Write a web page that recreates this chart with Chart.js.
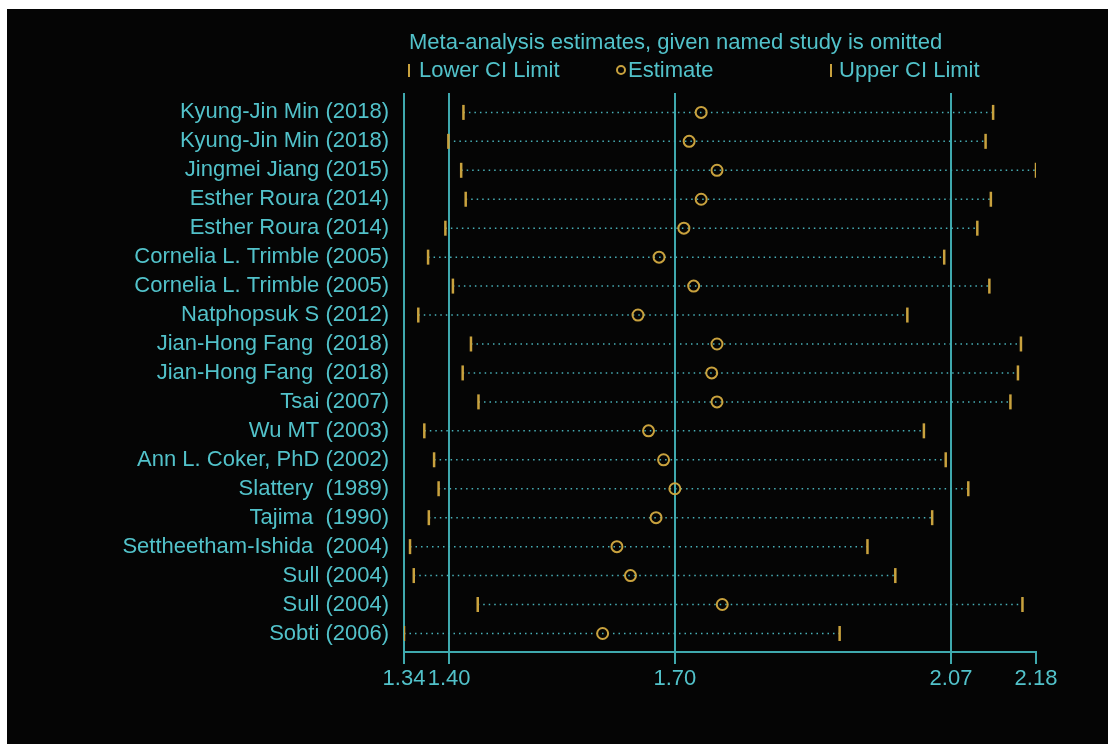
<!DOCTYPE html>
<html>
<head>
<meta charset="utf-8">
<script src="https://cdn.jsdelivr.net/npm/chart.js@4"></script>
<style>
  html, body { margin: 0; padding: 0; background: #ffffff; }
  #wrap { position: absolute; left: 7px; top: 9px; width: 1101px; height: 735px; background: #050505; }
  canvas { display: block; }
</style>
</head>
<body>
<div id="wrap"><canvas id="chart" width="1101" height="735"></canvas></div>
<script>
// 한 연구씩 제외한 메타분석 추정치 (leave-one-out)
const studies = [
  'Kyung-Jin Min (2018)', 'Kyung-Jin Min (2018)', 'Jingmei Jiang (2015)', 'Esther Roura (2014)',
  'Esther Roura (2014)', 'Cornelia L. Trimble (2005)', 'Cornelia L. Trimble (2005)', 'Natphopsuk S (2012)',
  'Jian-Hong Fang  (2018)', 'Jian-Hong Fang  (2018)', 'Tsai (2007)', 'Wu MT (2003)',
  'Ann L. Coker, PhD (2002)', 'Slattery  (1989)', 'Tajima  (1990)', 'Settheetham-Ishida  (2004)',
  'Sull (2004)', 'Sull (2004)', 'Sobti (2006)'
];
const lowerCI = [1.419, 1.399, 1.416, 1.422, 1.395, 1.372, 1.405, 1.359, 1.429, 1.418,
                 1.439, 1.367, 1.380, 1.386, 1.373, 1.348, 1.353, 1.438, 1.340];
const estimates = [1.735, 1.719, 1.756, 1.735, 1.712, 1.679, 1.725, 1.651, 1.756, 1.749,
                   1.756, 1.665, 1.685, 1.700, 1.675, 1.623, 1.641, 1.763, 1.604];
const upperCI = [2.123, 2.113, 2.180, 2.120, 2.102, 2.058, 2.118, 2.009, 2.160, 2.156,
                 2.146, 2.031, 2.060, 2.090, 2.042, 1.956, 1.993, 2.162, 1.919];
const xTicks = [1.34, 1.40, 1.70, 2.067, 2.18];
const refLines = [1.34, 1.40, 1.70, 2.067];

const TEXT = '#52c2ca';
const LINE = '#3fa9ae';
const GOLD = '#c9a23e';
const DOTS = '#48b0b8';
const FONT = "'Liberation Sans', Arial, sans-serif";

const ciSegments = [];
studies.forEach((s, i) => {
  ciSegments.push({ x: lowerCI[i], y: i }, { x: upperCI[i], y: i }, { x: upperCI[i], y: null });
});

const legendPlugin = {
  id: 'stataLegend',
  afterDraw(chart) {
    const ctx = chart.ctx;
    ctx.save();
    ctx.fillStyle = TEXT;
    ctx.font = `22px ${FONT}`;
    ctx.textBaseline = 'alphabetic';
    ctx.fillText('Meta-analysis estimates, given named study is omitted', 402, 40);
    ctx.fillText('Lower CI Limit', 412, 68);
    ctx.fillText('Estimate', 621, 68);
    ctx.fillText('Upper CI Limit', 832, 68);
    ctx.strokeStyle = GOLD;
    ctx.lineWidth = 2;
    ctx.beginPath();
    ctx.moveTo(402, 55); ctx.lineTo(402, 68);
    ctx.moveTo(824, 55); ctx.lineTo(824, 68);
    ctx.stroke();
    ctx.beginPath();
    ctx.arc(614, 61, 4, 0, Math.PI * 2);
    ctx.stroke();
    ctx.restore();
  }
};

new Chart(document.getElementById('chart'), {
  type: 'scatter',
  data: {
    datasets: [
      {
        label: 'CI',
        type: 'line',
        data: ciSegments,
        showLine: true,
        spanGaps: false,
        borderColor: DOTS,
        borderWidth: 1.5,
        borderDash: [1.5, 4],
        pointRadius: 0,
        order: 2
      },
      {
        label: 'Lower CI Limit',
        data: lowerCI.map((v, i) => ({ x: v, y: i })),
        pointStyle: 'line',
        rotation: 90,
        radius: 7.5,
        borderColor: GOLD,
        borderWidth: 2.5,
        order: 0
      },
      {
        label: 'Estimate',
        data: estimates.map((v, i) => ({ x: v, y: i })),
        pointStyle: 'circle',
        radius: 5.5,
        borderColor: GOLD,
        backgroundColor: 'rgba(0,0,0,0)',
        borderWidth: 2,
        order: 0
      },
      {
        label: 'Upper CI Limit',
        data: upperCI.map((v, i) => ({ x: v, y: i })),
        pointStyle: 'line',
        rotation: 90,
        radius: 7.5,
        borderColor: GOLD,
        borderWidth: 2.5,
        order: 0
      }
    ]
  },
  options: {
    responsive: false,
    animation: false,
    layout: { padding: { left: 0, right: 72, top: 84, bottom: 0 } },
    plugins: { legend: { display: false }, tooltip: { enabled: false } },
    scales: {
      x: {
        type: 'linear',
        min: 1.34,
        max: 2.18,
        afterBuildTicks: scale => { scale.ticks = xTicks.map(v => ({ value: v })); },
        afterFit: scale => { scale.height = 92; },
        ticks: {
          autoSkip: false,
          maxRotation: 0,
          color: TEXT,
          font: { family: FONT, size: 22 },
          padding: 2,
          callback: v => v.toFixed(2)
        },
        grid: {
          color: ctx => (ctx.tick && refLines.includes(ctx.tick.value) ? LINE : 'rgba(0,0,0,0)'),
          lineWidth: 2,
          drawTicks: true,
          tickLength: 12,
          tickColor: LINE,
          tickWidth: 2
        },
        border: { display: true, color: LINE, width: 2 }
      },
      y: {
        type: 'linear',
        min: -0.67,
        max: 18.64,
        reverse: true,
        afterBuildTicks: scale => { scale.ticks = studies.map((s, i) => ({ value: i })); },
        afterFit: scale => { scale.width = 397; },
        ticks: {
          autoSkip: false,
          color: TEXT,
          font: { family: FONT, size: 22 },
          padding: 7,
          callback: v => studies[v]
        },
        grid: { display: false },
        border: { display: false }
      }
    }
  },
  plugins: [legendPlugin]
});
</script>
</body>
</html>
